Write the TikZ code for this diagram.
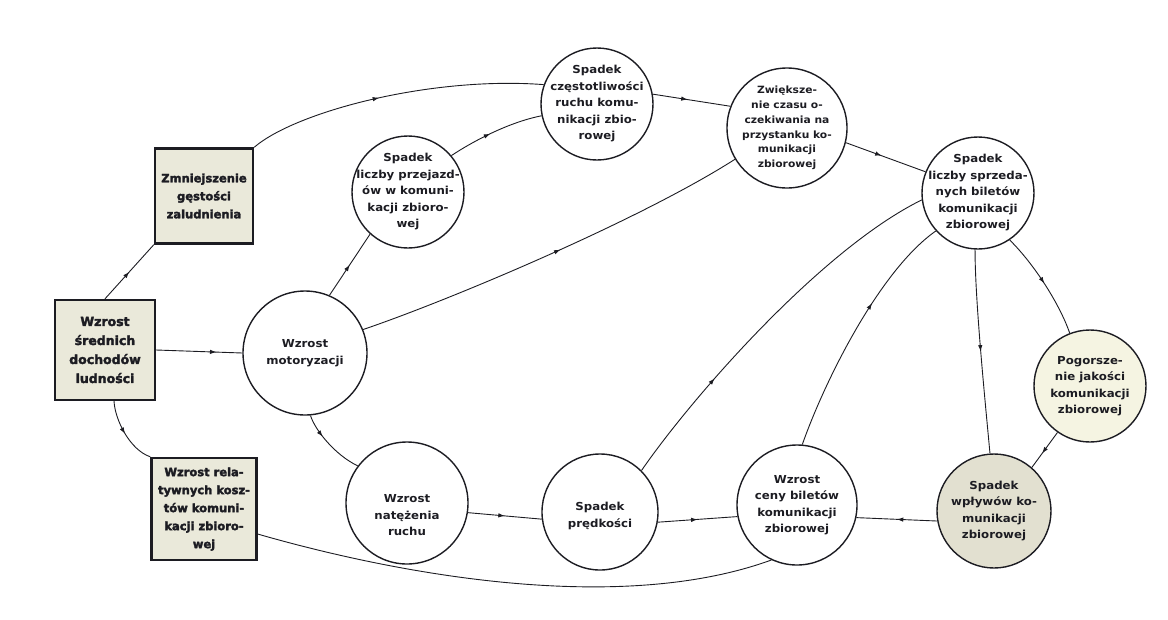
\documentclass[tikz,border=0pt]{standalone}
\usepackage{fontspec}
\setmainfont{DejaVu Sans}
\newfontfamily\circfont{DejaVu Sans}[FakeStretch=1.07]
\newfontfamily\boxfont{DejaVu Sans}[FakeBold=2.5]
\usetikzlibrary{decorations.markings,arrows.meta}
\definecolor{boxfill}{RGB}{234,233,218}
\definecolor{wpfill}{RGB}{226,224,208}
\definecolor{pgfill}{RGB}{245,244,226}
\definecolor{inkc}{RGB}{28,28,34}
\begin{document}
\begin{tikzpicture}[x=1pt,y=-1pt,
  every node/.style={align=center, text=inkc},
  box/.style={draw=inkc, line width=2.4pt, fill=boxfill, inner sep=1pt,
    font=\boxfont\bfseries\fontsize{12.5}{19}\selectfont},
  circ/.style={draw=inkc, circle, line width=1.4pt, inner sep=-45pt, minimum size=#1,
    font=\circfont\bfseries\fontsize{11}{16.5}\selectfont},
  conn/.style={draw=inkc, line width=0.9pt},
  midarr/.style={postaction={decorate}, decoration={markings,
    mark=at position #1 with {\arrow{Latex[length=6.5pt,width=4.5pt]}}}}
]
\useasboundingbox (0,0) rectangle (1168,619);

% boxes
\node[box, minimum width=98pt, minimum height=95pt, font=\boxfont\bfseries\fontsize{11.5}{18}\selectfont] (box1) at (204,196)
  {Zmniejszenie\\gęstości\\zaludnienia};
\node[box, minimum width=100pt, minimum height=100pt] (box2) at (105,350)
  {Wzrost\\średnich\\dochodów\\ludności};
\node[box, minimum width=105pt, minimum height=102pt, font=\boxfont\bfseries\fontsize{11.5}{18}\selectfont] (box3) at (204,509)
  {Wzrost rela-\\tywnych kosz-\\tów komuni-\\kacji zbioro-\\wej};

% circles
\node[circ=124pt] (moto) at (305,353) {Wzrost\\motoryzacji};
\node[circ=112pt] (przej) at (408,192) {Spadek\\liczby przejazd-\\ów w komuni-\\kacji zbioro-\\wej};
\node[circ=112pt] (czest) at (597,104) {Spadek\\częstotliwości\\ruchu komu-\\nikacji zbio-\\rowej};
\node[circ=120pt, font=\circfont\bfseries\fontsize{10}{14.8}\selectfont] (zwiek) at (787,128)
  {Zwiększe-\\nie czasu o-\\czekiwania na\\przystanku ko-\\munikacji\\zbiorowej};
\node[circ=112pt] (sprz) at (978,193) {Spadek\\liczby sprzeda-\\nych biletów\\komunikacji\\zbiorowej};
\node[circ=112pt, fill=pgfill] (pogor) at (1090,386) {Pogorsze-\\nie jakości\\komunikacji\\zbiorowej};
\node[circ=114pt, fill=wpfill] (wplyw) at (994,511) {Spadek\\wpływów ko-\\munikacji\\zbiorowej};
\node[circ=120pt] (ceny) at (797,505) {Wzrost\\ceny biletów\\komunikacji\\zbiorowej};
\node[circ=116pt] (predk) at (600,512) {~\\Spadek\\prędkości};
\node[circ=122pt] (natez) at (407,503) {~\\~\\Wzrost\\natężenia\\ruchu};

% connectors
\draw[conn, midarr=0.5] (box2.north) -- (box1.south west);
\draw[conn, midarr=0.45] (box1.north east) .. controls (295,112) and (430,76) .. (czest.160);
\draw[conn, midarr=0.5] (moto.67) -- (przej.228);
\draw[conn, midarr=0.45] (przej.40) .. controls (475,140) and (510,122) .. (czest.192);
\draw[conn, midarr=0.45] (czest.10) -- (zwiek.159);
\draw[conn, midarr=0.45] (zwiek.-14) -- (sprz.158);
\draw[conn, midarr=0.52] (moto.22) .. controls (450,300) and (640,220) .. (zwiek.211);
\draw[conn, midarr=0.7] (box2.east) -- (moto.west);
\draw[conn, midarr=0.5] (box2.-80) .. controls (115,420) and (130,450) .. (box3.north west);
\draw[conn, midarr=0.35] (moto.-85) .. controls (315,430) and (335,455) .. (natez.143);
\draw[conn, midarr=0.5] (natez.-9) -- (predk.187);
\draw[conn, midarr=0.5] (predk.-10) -- (ceny.191);
\draw[conn, midarr=0.3] (predk.45) .. controls (690,400) and (820,250) .. (sprz.187);
\draw[conn, midarr=0.62] (ceny.85) .. controls (825,380) and (880,270) .. (sprz.222);
\draw[conn, midarr=0.5] (sprz.267) .. controls (975,300) and (985,400) .. (wplyw.94);
\draw[conn, midarr=0.5] (sprz.-56) .. controls (1035,265) and (1060,305) .. (pogor.111);
\draw[conn, midarr=0.6] (pogor.235) -- (wplyw.49);
\draw[conn, midarr=0.5] (wplyw.190) -- (ceny.-12);
\draw[conn] (box3.-25) .. controls (400,575) and (620,615) .. (ceny.245);
\end{tikzpicture}
\end{document}
